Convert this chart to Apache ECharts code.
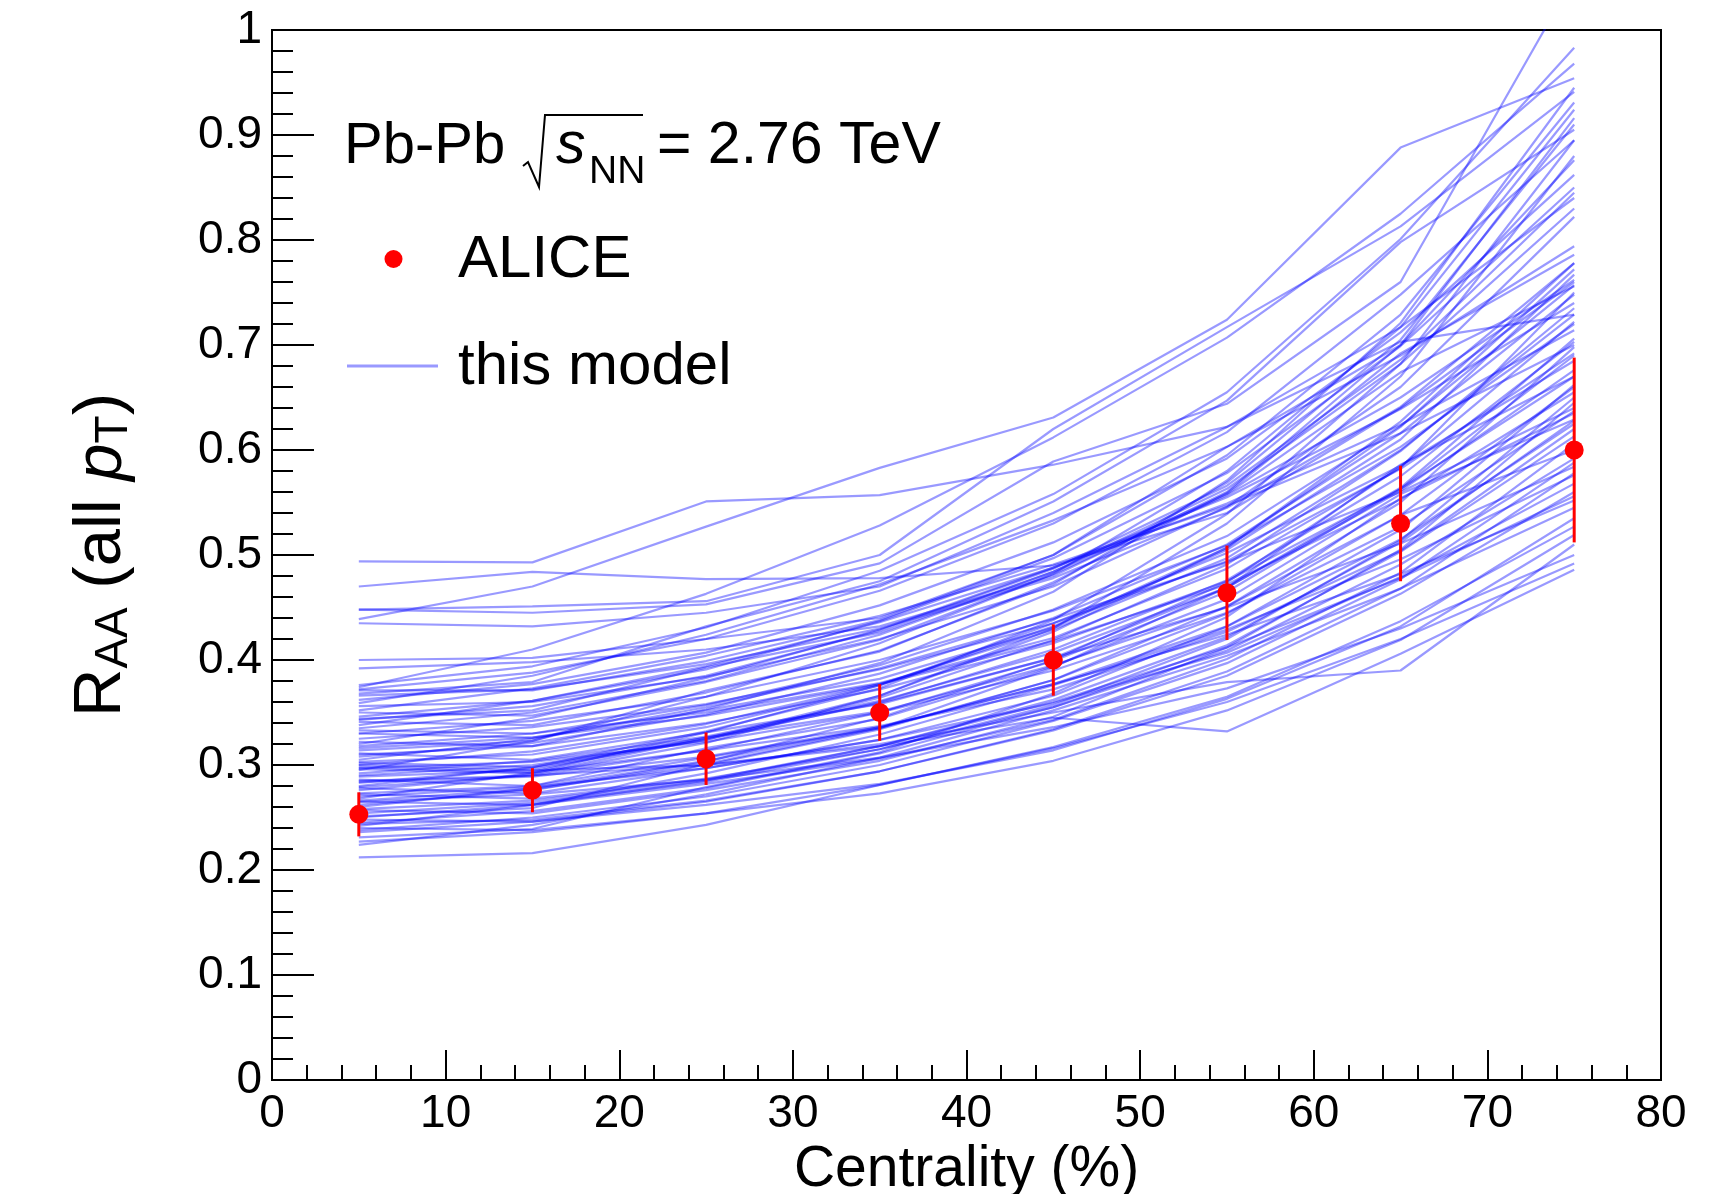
<!DOCTYPE html>
<html>
<head>
<meta charset="utf-8">
<title>RAA vs centrality</title>
<script src="https://cdn.jsdelivr.net/npm/echarts@6.0.0/dist/echarts.min.js"></script>
<style>
  html, body { margin: 0; padding: 0; background: #fff; }
  #chart { width: 1717px; height: 1194px; }
</style>
</head>
<body>
<div id="chart"></div>
<script>
// centrality bin centres (%)
var centrality = [5, 15, 25, 35, 45, 55, 65, 75];

// ALICE points and their errors
var aliceRaa = [0.253, 0.276, 0.306, 0.350, 0.400, 0.464, 0.530, 0.600];
var aliceErr = [0.021, 0.021, 0.025, 0.027, 0.034, 0.045, 0.055, 0.088];

// model curves, one row per parameter set (values at the centrality bins)
var modelCurves = [
    [0.494, 0.493, 0.551, 0.557, 0.586, 0.622, 0.703, 0.729],
    [0.439, 0.470, 0.527, 0.583, 0.631, 0.724, 0.888, 0.954],
    [0.470, 0.484, 0.477, 0.478, 0.490, 0.540, 0.640, 0.760],
    [0.448, 0.451, 0.456, 0.500, 0.620, 0.717, 0.813, 0.941],
    [0.448, 0.445, 0.453, 0.492, 0.589, 0.644, 0.760, 1.050],
    [0.435, 0.432, 0.445, 0.470, 0.540, 0.622, 0.717, 0.840],
    [0.400, 0.402, 0.420, 0.440, 0.500, 0.603, 0.700, 0.916],
    [0.392, 0.398, 0.410, 0.432, 0.480, 0.560, 0.700, 0.876],
    [0.376, 0.394, 0.431, 0.485, 0.558, 0.655, 0.801, 0.983],
    [0.374, 0.410, 0.463, 0.528, 0.612, 0.707, 0.825, 0.968],
    [0.372, 0.388, 0.420, 0.466, 0.530, 0.617, 0.748, 0.895],
    [0.371, 0.371, 0.399, 0.438, 0.500, 0.595, 0.729, 0.931],
    [0.368, 0.379, 0.432, 0.475, 0.551, 0.647, 0.798, 0.905],
    [0.366, 0.372, 0.396, 0.430, 0.478, 0.545, 0.641, 0.778],
    [0.362, 0.377, 0.407, 0.452, 0.512, 0.592, 0.712, 0.862],
    [0.359, 0.385, 0.424, 0.472, 0.533, 0.603, 0.690, 0.794],
    [0.356, 0.360, 0.384, 0.420, 0.470, 0.546, 0.660, 0.822],
    [0.352, 0.373, 0.404, 0.442, 0.491, 0.547, 0.616, 0.700],
    [0.350, 0.347, 0.379, 0.419, 0.482, 0.580, 0.717, 0.924],
    [0.346, 0.361, 0.391, 0.437, 0.497, 0.578, 0.699, 0.850],
    [0.344, 0.352, 0.393, 0.426, 0.484, 0.558, 0.674, 0.756],
    [0.343, 0.356, 0.385, 0.428, 0.487, 0.566, 0.686, 0.845],
    [0.341, 0.338, 0.369, 0.409, 0.472, 0.569, 0.705, 0.910],
    [0.338, 0.361, 0.394, 0.436, 0.488, 0.549, 0.624, 0.714],
    [0.335, 0.350, 0.380, 0.424, 0.484, 0.563, 0.682, 0.830],
    [0.333, 0.330, 0.350, 0.378, 0.421, 0.487, 0.583, 0.750],
    [0.330, 0.326, 0.352, 0.382, 0.431, 0.505, 0.610, 0.767],
    [0.330, 0.342, 0.365, 0.400, 0.447, 0.509, 0.603, 0.720],
    [0.325, 0.336, 0.358, 0.391, 0.435, 0.494, 0.582, 0.692],
    [0.322, 0.318, 0.353, 0.397, 0.465, 0.571, 0.721, 0.945],
    [0.320, 0.345, 0.383, 0.429, 0.488, 0.555, 0.639, 0.740],
    [0.318, 0.330, 0.357, 0.395, 0.448, 0.518, 0.623, 0.757],
    [0.316, 0.326, 0.347, 0.377, 0.418, 0.472, 0.553, 0.655],
    [0.314, 0.323, 0.371, 0.408, 0.474, 0.559, 0.692, 0.786],
    [0.311, 0.305, 0.331, 0.358, 0.402, 0.469, 0.564, 0.706],
    [0.310, 0.318, 0.340, 0.372, 0.416, 0.475, 0.563, 0.670],
    [0.308, 0.321, 0.348, 0.387, 0.440, 0.510, 0.616, 0.748],
    [0.305, 0.325, 0.355, 0.392, 0.439, 0.493, 0.560, 0.640],
    [0.303, 0.310, 0.336, 0.376, 0.432, 0.507, 0.622, 0.772],
    [0.302, 0.298, 0.332, 0.373, 0.438, 0.539, 0.682, 0.895],
    [0.300, 0.313, 0.339, 0.377, 0.429, 0.497, 0.600, 0.729],
    [0.300, 0.295, 0.300, 0.318, 0.345, 0.332, 0.406, 0.486],
    [0.298, 0.293, 0.314, 0.337, 0.372, 0.427, 0.504, 0.620],
    [0.297, 0.303, 0.322, 0.350, 0.390, 0.445, 0.527, 0.637],
    [0.296, 0.292, 0.325, 0.366, 0.430, 0.530, 0.670, 0.880],
    [0.295, 0.323, 0.365, 0.416, 0.482, 0.557, 0.650, 0.762],
    [0.292, 0.304, 0.327, 0.361, 0.407, 0.469, 0.561, 0.676],
    [0.290, 0.300, 0.324, 0.360, 0.410, 0.476, 0.575, 0.703],
    [0.289, 0.295, 0.326, 0.351, 0.395, 0.451, 0.538, 0.600],
    [0.286, 0.280, 0.307, 0.335, 0.381, 0.451, 0.550, 0.698],
    [0.285, 0.290, 0.300, 0.320, 0.350, 0.379, 0.390, 0.510],
    [0.284, 0.289, 0.308, 0.336, 0.377, 0.432, 0.515, 0.625],
    [0.283, 0.297, 0.324, 0.364, 0.419, 0.491, 0.599, 0.735],
    [0.280, 0.298, 0.326, 0.359, 0.402, 0.450, 0.511, 0.584],
    [0.279, 0.290, 0.314, 0.350, 0.399, 0.465, 0.563, 0.690],
    [0.278, 0.273, 0.297, 0.324, 0.366, 0.432, 0.524, 0.662],
    [0.276, 0.291, 0.321, 0.366, 0.427, 0.507, 0.627, 0.778],
    [0.273, 0.280, 0.316, 0.344, 0.394, 0.458, 0.558, 0.629],
    [0.272, 0.268, 0.287, 0.315, 0.357, 0.420, 0.514, 0.650],
    [0.270, 0.279, 0.297, 0.324, 0.359, 0.407, 0.479, 0.568],
    [0.268, 0.293, 0.331, 0.376, 0.435, 0.502, 0.585, 0.685],
    [0.266, 0.277, 0.300, 0.334, 0.381, 0.444, 0.538, 0.660],
    [0.265, 0.262, 0.282, 0.306, 0.343, 0.401, 0.483, 0.606],
    [0.265, 0.272, 0.286, 0.307, 0.336, 0.373, 0.430, 0.500],
    [0.262, 0.276, 0.303, 0.345, 0.400, 0.474, 0.584, 0.722],
    [0.260, 0.278, 0.304, 0.336, 0.377, 0.424, 0.482, 0.552],
    [0.258, 0.266, 0.286, 0.318, 0.362, 0.422, 0.512, 0.628],
    [0.257, 0.254, 0.276, 0.304, 0.346, 0.412, 0.505, 0.645],
    [0.254, 0.264, 0.284, 0.315, 0.355, 0.409, 0.491, 0.592],
    [0.251, 0.259, 0.301, 0.335, 0.393, 0.469, 0.586, 0.670],
    [0.250, 0.262, 0.285, 0.318, 0.360, 0.412, 0.478, 0.556],
    [0.248, 0.246, 0.262, 0.282, 0.314, 0.363, 0.432, 0.535],
    [0.245, 0.256, 0.278, 0.311, 0.355, 0.414, 0.503, 0.613],
    [0.244, 0.248, 0.266, 0.294, 0.334, 0.389, 0.468, 0.578],
    [0.242, 0.262, 0.292, 0.329, 0.376, 0.429, 0.496, 0.576],
    [0.240, 0.238, 0.254, 0.273, 0.304, 0.352, 0.419, 0.519],
    [0.238, 0.250, 0.270, 0.300, 0.342, 0.397, 0.477, 0.588],
    [0.236, 0.246, 0.265, 0.294, 0.333, 0.385, 0.463, 0.560],
    [0.231, 0.239, 0.279, 0.312, 0.368, 0.441, 0.554, 0.635],
    [0.227, 0.236, 0.254, 0.281, 0.317, 0.365, 0.437, 0.527],
    [0.224, 0.243, 0.272, 0.307, 0.352, 0.404, 0.468, 0.545],
    [0.212, 0.216, 0.243, 0.281, 0.316, 0.360, 0.420, 0.492]
];

var FONT = "'Liberation Sans', Arial, Helvetica, sans-serif";
var modelColor = 'rgba(0,0,255,0.4)';

var myChart = echarts.init(document.getElementById('chart'));

var series = [];
for (var k = 0; k < modelCurves.length; k++) {
    var row = modelCurves[k];
    series.push({
        type: 'line',
        data: centrality.map(function (c, i) { return [c, row[i]]; }),
        symbol: 'none',
        silent: true,
        lineStyle: { color: modelColor, width: 2.2 },
        z: 2
    });
}

// error bars
series.push({
    type: 'custom',
    silent: true,
    z: 10,
    data: centrality.map(function (c, i) {
        return [c, aliceRaa[i] - aliceErr[i], aliceRaa[i] + aliceErr[i]];
    }),
    renderItem: function (params, api) {
        var lo = api.coord([api.value(0), api.value(1)]);
        var hi = api.coord([api.value(0), api.value(2)]);
        return {
            type: 'line',
            shape: { x1: lo[0], y1: lo[1], x2: hi[0], y2: hi[1] },
            style: { stroke: '#ff0000', lineWidth: 3 }
        };
    }
});

series.push({
    type: 'scatter',
    data: centrality.map(function (c, i) { return [c, aliceRaa[i]]; }),
    symbol: 'circle',
    symbolSize: 19,
    itemStyle: { color: '#ff0000', opacity: 1 },
    silent: true,
    z: 12
});

var option = {
    animation: false,
    backgroundColor: '#fff',
    grid: {
        left: 272, right: 56, top: 30, bottom: 114,
        show: true, borderColor: '#000', borderWidth: 2,
        outerBoundsMode: 'none'
    },
    xAxis: {
        type: 'value',
        min: 0, max: 80, interval: 10,
        name: 'Centrality (%)',
        nameLocation: 'middle',
        nameGap: 58,
        nameTextStyle: { fontSize: 57, fontFamily: FONT, color: '#000' },
        axisLine: { show: true, onZero: false, lineStyle: { color: '#000', width: 2 } },
        axisTick: { show: true, inside: true, length: 30, lineStyle: { color: '#000', width: 2 } },
        minorTick: { show: true, splitNumber: 5, length: 15, lineStyle: { color: '#000', width: 2 } },
        axisLabel: { fontSize: 46, fontFamily: FONT, color: '#000', margin: 11 },
        splitLine: { show: false }
    },
    yAxis: {
        type: 'value',
        min: 0, max: 1, interval: 0.1,
        name: '{r|R}{sub|AA}{r| (all }{i|p}{sub|T}{r|)}',
        nameLocation: 'middle',
        nameRotate: 90,
        nameGap: 135,
        nameTextStyle: {
            fontFamily: FONT, color: '#000',
            rich: {
                r: { fontSize: 67, fontFamily: FONT, color: '#000', lineHeight: 70 },
                i: { fontSize: 67, fontFamily: FONT, color: '#000', fontStyle: 'italic', lineHeight: 70 },
                sub: { fontSize: 46, fontFamily: FONT, color: '#000', lineHeight: 30, verticalAlign: 'bottom' }
            }
        },
        axisLine: { show: true, onZero: false, lineStyle: { color: '#000', width: 2 } },
        axisTick: { show: true, inside: true, length: 42, lineStyle: { color: '#000', width: 2 } },
        minorTick: { show: true, splitNumber: 5, length: 21, lineStyle: { color: '#000', width: 2 } },
        axisLabel: {
            fontSize: 46, fontFamily: FONT, color: '#000', margin: 10,
            formatter: function (v) { return String(Math.round(v * 10) / 10); }
        },
        splitLine: { show: false }
    },
    graphic: [
        { type: 'text', x: 344, y: 147, style: { text: 'Pb-Pb', font: '58px ' + FONT, fill: '#000', verticalAlign: 'middle' } },
        { type: 'polyline', shape: { points: [[523, 166], [528, 162], [539, 187], [545, 115], [643, 115]] },
          style: { stroke: '#000', lineWidth: 2, fill: null } },
        { type: 'text', x: 556, y: 147, style: { text: 's', font: 'italic 59px ' + FONT, fill: '#000', verticalAlign: 'middle' } },
        { type: 'text', x: 589, y: 172, style: { text: 'NN', font: '39px ' + FONT, fill: '#000', verticalAlign: 'middle' } },
        { type: 'text', x: 657, y: 147, style: { text: '= 2.76 TeV', font: '59px ' + FONT, fill: '#000', verticalAlign: 'middle' } },
        { type: 'circle', shape: { cx: 393.5, cy: 259, r: 9 }, style: { fill: '#ff0000' } },
        { type: 'text', x: 458, y: 260, style: { text: 'ALICE', font: '60px ' + FONT, fill: '#000', verticalAlign: 'middle' } },
        { type: 'line', shape: { x1: 347, y1: 366, x2: 438, y2: 366 }, style: { stroke: modelColor, lineWidth: 3 } },
        { type: 'text', x: 458, y: 367, style: { text: 'this model', font: '60px ' + FONT, fill: '#000', verticalAlign: 'middle' } }
    ],
    series: series
};

myChart.setOption(option);
</script>
</body>
</html>
